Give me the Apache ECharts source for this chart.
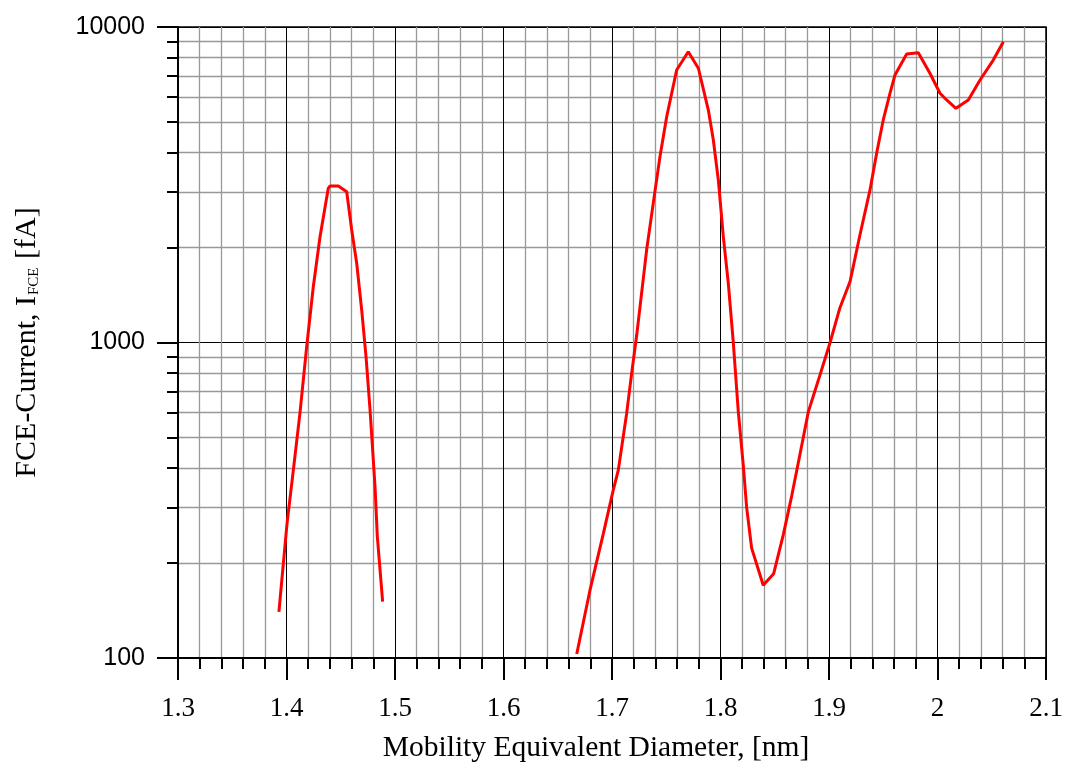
<!DOCTYPE html>
<html>
<head>
<meta charset="utf-8">
<script src="https://cdn.jsdelivr.net/npm/echarts@6/dist/echarts.min.js"></script>
<style>
html,body{margin:0;padding:0;background:#fff;}
#chart{width:1069px;height:769px;}
</style>
</head>
<body>
<div id="chart"></div>
<script>
// ---- data ----
const peak1X = [1.393, 1.4005, 1.4063, 1.4124, 1.4186, 1.4247, 1.4309, 1.4385, 1.440, 1.4478, 1.4555, 1.4601, 1.4647, 1.4693, 1.4733, 1.477, 1.4816, 1.4837, 1.4886];
const peak1Y = [140, 267, 394, 597, 970, 1502, 2164, 3080, 3133, 3133, 3006, 2274, 1783, 1268, 902, 611, 349, 243, 151];

const peak2X = [1.6675, 1.6797, 1.692, 1.7012, 1.7058, 1.7135, 1.7181, 1.7227, 1.7319, 1.738, 1.7442, 1.7504, 1.7596, 1.7703, 1.7796, 1.7888, 1.7934, 1.798, 1.8026, 1.8072, 1.8118, 1.8164, 1.821, 1.8241, 1.8287, 1.8394, 1.849, 1.8579, 1.8656, 1.8733, 1.881, 1.890, 1.901, 1.910, 1.9194, 1.9286, 1.9378, 1.9439, 1.95, 1.9562, 1.9608, 1.9716, 1.9823, 1.993, 2.0023, 2.0084, 2.017, 2.0284, 2.0392, 2.0514, 2.0607];
const peak2Y = [103, 164, 248, 341, 394, 596, 798, 1050, 1963, 2761, 3879, 5195, 7305, 8350, 7400, 5453, 4385, 3275, 2165, 1540, 1000, 604, 408, 300, 223, 170, 185, 246, 326, 443, 604, 756, 1000, 1287, 1560, 2200, 3045, 3979, 5073, 6165, 7044, 8212, 8290, 7134, 6165, 5872, 5525, 5872, 6792, 7857, 8984];

const xMin = 1.3, xMax = 2.1, xStep = 0.1;
const yMajorTicks = [100, 1000, 10000];
const yMinorTicks = [200, 300, 400, 500, 600, 700, 800, 900, 2000, 3000, 4000, 5000, 6000, 7000, 8000, 9000];

const xTitle = 'Mobility Equivalent Diameter, [nm]';
// ---------------------------------------

const toPairs = (xs, ys) => xs.map((x, i) => [x, ys[i]]);

const chart = echarts.init(document.getElementById('chart'), null, {renderer: 'canvas'});
const lineStyle = {color: '#ff0000', width: 3};

chart.setOption({
  animation: false,
  backgroundColor: '#fff',
  grid: {left: 178, top: 27, right: 23, bottom: 111, show: true, borderColor: '#000', borderWidth: 1.5, backgroundColor: 'transparent'},
  xAxis: {
    type: 'value', min: xMin, max: xMax, interval: xStep,
    axisLine: {show: true, onZero: false, lineStyle: {color: '#000', width: 2}},
    axisTick: {show: true, inside: false, length: 22, lineStyle: {color: '#000', width: 2}},
    minorTick: {show: true, splitNumber: 5, length: 11, lineStyle: {color: '#000', width: 2}},
    splitLine: {show: true, lineStyle: {color: '#000', width: 1}},
    minorSplitLine: {show: true, lineStyle: {color: '#999', width: 1.3}},
    axisLabel: {margin: 37, color: '#000', fontFamily: 'Liberation Serif', fontSize: 27,
      formatter: v => String(Math.round(v * 10) / 10)},
    name: xTitle, nameLocation: 'middle', nameGap: 75,
    nameTextStyle: {color: '#000', fontFamily: 'Liberation Serif', fontSize: 29.5, padding: [0, 32, 0, 0]}
  },
  yAxis: [{
    type: 'log', logBase: 10, min: 100, max: 10000,
    axisLine: {show: true, onZero: false, lineStyle: {color: '#000', width: 2}},
    axisTick: {show: true, inside: false, length: 21, customValues: yMajorTicks, lineStyle: {color: '#000', width: 2}},
    splitLine: {show: true, lineStyle: {color: '#000', width: 1}},
    axisLabel: {margin: 33, color: '#000', fontFamily: 'Liberation Sans', fontSize: 25, customValues: yMajorTicks,
      formatter: v => String(Math.round(v))},
    name: '{a|FCE-Current, I}{s|FCE}{a| [fA]}', nameLocation: 'middle', nameGap: 136, nameRotate: 90,
    nameTextStyle: {color: '#000', rich: {
      a: {fontFamily: 'Liberation Serif', fontSize: 30, color: '#000', verticalAlign: 'bottom', lineHeight: 32},
      s: {fontFamily: 'Liberation Serif', fontSize: 15, color: '#000', verticalAlign: 'bottom', lineHeight: 32, padding: [0, 1, 0, 1]}
    }}
  }, {
    type: 'log', logBase: 10, min: 100, max: 10000, position: 'left',
    axisLine: {show: false},
    axisTick: {show: true, inside: false, length: 11, customValues: yMinorTicks, lineStyle: {color: '#000', width: 2}},
    splitLine: {show: true, lineStyle: {color: '#999', width: 1.3}},
    axisLabel: {show: false, customValues: yMinorTicks}
  }],
  series: [
    {type: 'line', data: toPairs(peak1X, peak1Y), showSymbol: false, symbol: 'none', lineStyle: lineStyle, z: 10},
    {type: 'line', data: toPairs(peak2X, peak2Y), showSymbol: false, symbol: 'none', lineStyle: lineStyle, z: 10}
  ]
});
</script>
</body>
</html>
